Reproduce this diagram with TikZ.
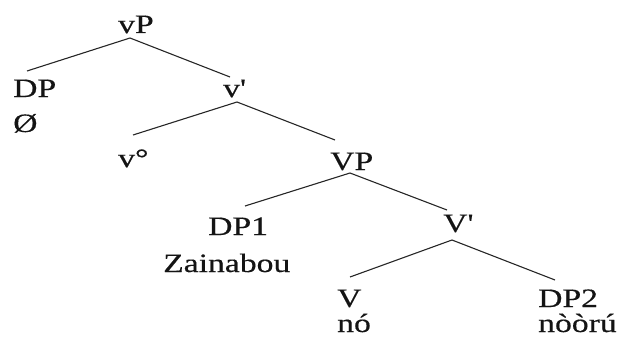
\documentclass[tikz,border=0pt]{standalone}
\usepackage{graphicx}
\usepackage{fontspec}
\setmainfont{Liberation Serif}[Ligatures=TeXOff]
\newfontfamily\lblfont{Liberation Serif}[Ligatures=TeXOff, FakeBold=0.35]
\newcommand{\wide}[1]{\scalebox{1.27}[1]{#1}}
\tikzset{
  lbl/.style={inner sep=0pt, anchor=base west, font=\lblfont\fontsize{26.5}{28}\selectfont, text=black!92},
  edge/.style={line width=1.1pt, draw=black!85}
}
\begin{document}
\begin{tikzpicture}[x=1pt,y=-1pt]
\useasboundingbox (0,0) rectangle (624,345);
% labels
\node[lbl] (vP)   at (118,33)  {\wide{vP}};
\node[lbl] (DP)   at (13,97)   {\wide{DP}};
\node[lbl] (empty) at (13,132) {\wide{Ø}};
\node[lbl] (vbar) at (223,97)  {\wide{v'}};
\node[lbl] (vo)   at (118,167) {\wide{v°}};
\node[lbl] (VP)   at (330,170) {\wide{VP}};
\node[lbl] (DPa)  at (208,235) {\wide{DP1}};
\node[lbl] (zai)  at (163,272) {\wide{Zainabou}};
\node[lbl] (Vbar) at (443,232) {\wide{V'}};
\node[lbl] (V)    at (337,307) {\wide{V}};
\node[lbl] (no)   at (337,332) {\wide{nó}};
\node[lbl] (DPb)  at (538,307) {\wide{DP2}};
\node[lbl] (noru) at (538,332) {\wide{nòòrú}};
% connector end points
\coordinate (vPd)   at (130,38);
\coordinate (DPu)   at (27,71);
\coordinate (vbaru) at (230,77);
\coordinate (vbard) at (237,102);
\coordinate (vou)   at (133,135);
\coordinate (VPu)   at (335,140);
\coordinate (VPd)   at (350,173);
\coordinate (DPau)  at (245,206);
\coordinate (Vbaru) at (447,210);
\coordinate (Vbard) at (452,240);
\coordinate (Vu)    at (350,277);
\coordinate (DPbu)  at (555,280);
% connectors
\draw[edge] (vPd) -- (DPu);
\draw[edge] (vPd) -- (vbaru);
\draw[edge] (vbard) -- (vou);
\draw[edge] (vbard) -- (VPu);
\draw[edge] (VPd) -- (DPau);
\draw[edge] (VPd) -- (Vbaru);
\draw[edge] (Vbard) -- (Vu);
\draw[edge] (Vbard) -- (DPbu);
\end{tikzpicture}
\end{document}
